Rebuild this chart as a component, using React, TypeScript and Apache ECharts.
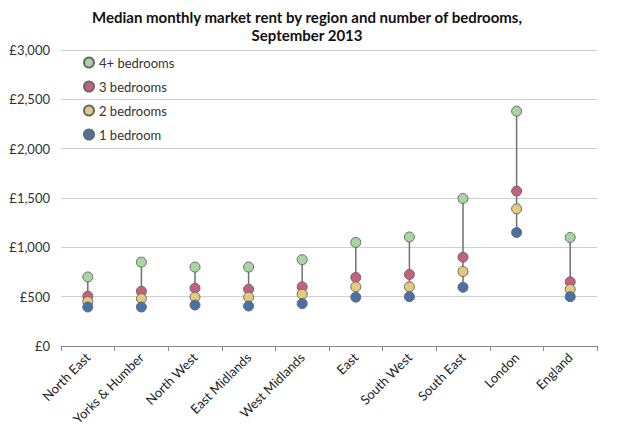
import React, { useEffect, useRef } from "react";
import * as echarts from "echarts";

const categories = [
  "North East",
  "Yorks & Humber",
  "North West",
  "East Midlands",
  "West Midlands",
  "East",
  "South West",
  "South East",
  "London",
  "England",
];
const bed4 = [700, 850, 800, 800, 875, 1050, 1105, 1495, 2380, 1100];
const bed3 = [505, 555, 585, 575, 600, 695, 725, 900, 1570, 650];
const bed2 = [450, 480, 495, 495, 525, 600, 600, 755, 1390, 575];
const bed1 = [395, 395, 415, 405, 430, 495, 500, 595, 1150, 500];
const seriesNames = ["4+ bedrooms", "3 bedrooms", "2 bedrooms", "1 bedroom"];
const colors = ["#a8d6a0", "#c6607c", "#e6ca7c", "#4672a8"];
const yTicks = [0, 500, 1000, 1500, 2000, 2500, 3000];

const FONT = "Lato, 'Open Sans', sans-serif";

export default function App() {
  const ref = useRef<HTMLDivElement>(null);
  useEffect(() => {
    document.body.style.margin = "0";
    if (!ref.current) return;
    const chart = echarts.init(ref.current, null, { renderer: "svg" });
    const rangeData = categories.map((_, i) => [
      i,
      Math.min(bed1[i], bed2[i], bed3[i], bed4[i]),
      Math.max(bed1[i], bed2[i], bed3[i], bed4[i]),
    ]);
    const values = [bed4, bed3, bed2, bed1];
    chart.setOption({
      animation: false,
      textStyle: { fontFamily: FONT },
      title: {
        text: "Median monthly market rent by region and number of bedrooms,\nSeptember 2013",
        left: 302,
        textAlign: "center",
        top: 3,
        textStyle: {
          fontFamily: FONT,
          fontSize: 15,
          fontWeight: "bold",
          color: "#111",
          lineHeight: 18,
        },
      },
      legend: {
        orient: "vertical",
        left: 78,
        top: 51,
        itemGap: 11,
        itemWidth: 10,
        itemHeight: 10,
        data: seriesNames,
        icon: "circle",
        textStyle: { fontFamily: FONT, fontSize: 13, color: "#333", lineHeight: 13 },
      },
      grid: { left: 61, right: 23, top: 50, bottom: 91, containLabel: false },
      xAxis: {
        type: "category",
        data: categories,
        boundaryGap: true,
        axisLine: { lineStyle: { color: "#888", width: 1 } },
        axisTick: { show: true, alignWithLabel: false, length: 5, lineStyle: { color: "#888" } },
        axisLabel: {
          rotate: 45,
          interval: 0,
          fontFamily: FONT,
          fontSize: 13,
          color: "#222",
          margin: 9,
        },
      },
      yAxis: {
        type: "value",
        min: yTicks[0],
        max: yTicks[yTicks.length - 1],
        interval: 500,
        axisLine: { show: false },
        axisTick: { show: false },
        splitLine: { lineStyle: { color: "#cfcfcf", width: 1 } },
        axisLabel: {
          fontFamily: FONT,
          fontSize: 13,
          color: "#333",
          margin: 11,
          formatter: (v: number) => "£" + v.toLocaleString("en-GB"),
        },
      },
      series: [
        {
          type: "custom",
          name: "range",
          z: 1,
          silent: true,
          data: rangeData,
          encode: { x: 0, y: [1, 2] },
          renderItem: (params: any, api: any) => {
            const x = api.value(0);
            const p1 = api.coord([x, api.value(1)]);
            const p2 = api.coord([x, api.value(2)]);
            return {
              type: "line",
              shape: { x1: p1[0], y1: p1[1], x2: p2[0], y2: p2[1] },
              style: { stroke: "#707070", lineWidth: 1.5 },
            };
          },
        },
        ...seriesNames.map((name, k) => ({
          type: "scatter",
          name,
          z: 2,
          symbol: "circle",
          symbolSize: 10,
          data: values[k],
          itemStyle: { color: colors[k], borderColor: "#6a6a6a", borderWidth: 1, opacity: 1 },
        })),
      ],
    });
    return () => chart.dispose();
  }, []);
  return <div ref={ref} style={{ width: 620, height: 437 }} />;
}
